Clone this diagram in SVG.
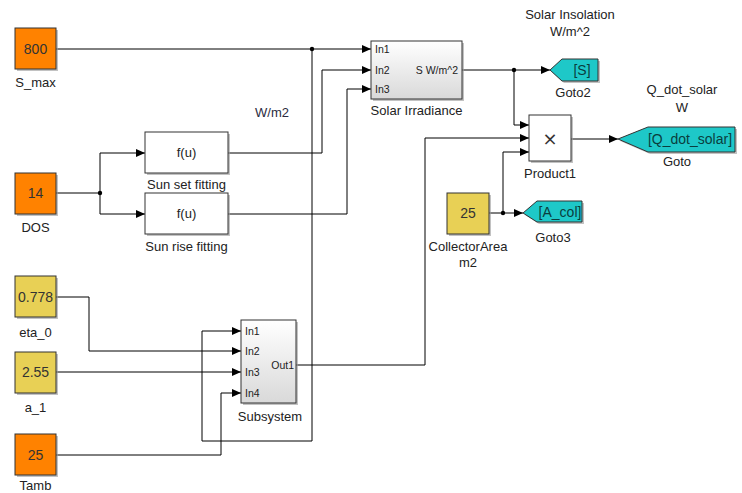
<svg xmlns="http://www.w3.org/2000/svg" width="742" height="493" viewBox="0 0 742 493">
<defs>
<linearGradient id="sub" x1="0" y1="0" x2="0" y2="1">
<stop offset="0" stop-color="#ffffff"/>
<stop offset="1" stop-color="#d9d9d9"/>
</linearGradient>
<marker id="arr" markerUnits="userSpaceOnUse" markerWidth="10" markerHeight="10" refX="9" refY="5" orient="auto" viewBox="0 0 10 10">
<path d="M0,1 L9,5 L0,9 Z" fill="#000"/>
</marker>
</defs>
<style>
text{font-family:"Liberation Sans",Arial,sans-serif;fill:#222}
.lbl{font-size:13px;text-anchor:middle}
.val{font-size:14px;text-anchor:middle;fill:#333}
.port{font-size:10.5px;fill:#222}
.shadow{fill:#9a9a9a;opacity:0.6}
.orange{fill:#ff8200;stroke:#333;stroke-width:1}
.yellow{fill:#e8d055;stroke:#333;stroke-width:1}
.white{fill:#fff;stroke:#333;stroke-width:1}
.grad{fill:url(#sub);stroke:#333;stroke-width:1}
.goto{fill:#1ec8c8;stroke:#333;stroke-width:1}
.gtxt{font-size:14px;text-anchor:middle;fill:#0a3e3e}
.wire{fill:none;stroke:#000;stroke-width:1}
.dot{fill:#000}
</style>

<g id="connectors">
<path class="wire" d="M56,49 H371" marker-end="url(#arr)"/>
<path class="wire" d="M312,49 V441 H202 V331 H241" marker-end="url(#arr)"/>
<path class="wire" d="M56,193 H100 V153 H145" marker-end="url(#arr)"/>
<path class="wire" d="M100,193 V214 H145" marker-end="url(#arr)"/>
<path class="wire" d="M228,153 H322 V70 H371" marker-end="url(#arr)"/>
<path class="wire" d="M228,214 H347 V89 H371" marker-end="url(#arr)"/>
<path class="wire" d="M462,70 H550" marker-end="url(#arr)"/>
<path class="wire" d="M514,70 V125 H529" marker-end="url(#arr)"/>
<path class="wire" d="M571,139 H618" marker-end="url(#arr)"/>
<path class="wire" d="M296,365 H425 V138 H529" marker-end="url(#arr)"/>
<path class="wire" d="M489,213 H523" marker-end="url(#arr)"/>
<path class="wire" d="M503,213 V152 H529" marker-end="url(#arr)"/>
<path class="wire" d="M56,297 H89 V351 H241" marker-end="url(#arr)"/>
<path class="wire" d="M56,372 H241" marker-end="url(#arr)"/>
<path class="wire" d="M56,455 H221 V393 H241" marker-end="url(#arr)"/>
<circle class="dot" cx="312" cy="49" r="2.2"/>
<circle class="dot" cx="100" cy="193" r="2.2"/>
<circle class="dot" cx="514" cy="70" r="2.2"/>
<circle class="dot" cx="503" cy="213" r="2.2"/>
</g>

<g id="S_max">
<rect class="shadow" x="17" y="30" width="41" height="41"/>
<rect class="orange" x="15" y="28" width="41" height="41"/>
<text class="val" x="35.5" y="54">800</text>
<text class="lbl" x="35.5" y="87">S_max</text>
</g>

<g id="DOS">
<rect class="shadow" x="17" y="175" width="41" height="41"/>
<rect class="orange" x="15" y="173" width="41" height="41"/>
<text class="val" x="35.5" y="198">14</text>
<text class="lbl" x="35.5" y="232">DOS</text>
</g>

<g id="eta_0">
<rect class="shadow" x="17" y="278" width="41" height="41"/>
<rect class="yellow" x="15" y="276" width="41" height="41"/>
<text class="val" x="35.5" y="302">0.778</text>
<text class="lbl" x="35.5" y="337">eta_0</text>
</g>

<g id="a_1">
<rect class="shadow" x="17" y="354" width="41" height="41"/>
<rect class="yellow" x="15" y="352" width="41" height="41"/>
<text class="val" x="35.5" y="377">2.55</text>
<text class="lbl" x="35.5" y="412">a_1</text>
</g>

<g id="Tamb">
<rect class="shadow" x="17" y="436" width="41" height="41"/>
<rect class="orange" x="15" y="434" width="41" height="41"/>
<text class="val" x="35.5" y="460">25</text>
<text class="lbl" x="35.5" y="490">Tamb</text>
</g>

<g id="SunSetFitting">
<rect class="shadow" x="147" y="134" width="83" height="41"/>
<rect class="white" x="145" y="132" width="83" height="41"/>
<text class="lbl" x="186.5" y="157">f(u)</text>
<text class="lbl" x="186.5" y="189">Sun set fitting</text>
</g>

<g id="SunRiseFitting">
<rect class="shadow" x="147" y="195" width="83" height="41"/>
<rect class="white" x="145" y="193" width="83" height="41"/>
<text class="lbl" x="186.5" y="218">f(u)</text>
<text class="lbl" x="186.5" y="251">Sun rise fitting</text>
</g>

<g id="SolarIrradiance">
<rect class="shadow" x="373" y="43" width="91" height="58"/>
<rect class="grad" x="371" y="41" width="91" height="58"/>
<text class="port" x="375" y="53">In1</text>
<text class="port" x="375" y="74">In2</text>
<text class="port" x="375" y="93">In3</text>
<text class="port" x="458" y="74" text-anchor="end" font-size="11.5">S W/m^2</text>
<text class="lbl" x="416.5" y="115">Solar Irradiance</text>
</g>

<g id="Subsystem">
<rect class="shadow" x="243" y="322" width="55" height="83"/>
<rect class="grad" x="241" y="320" width="55" height="83"/>
<text class="port" x="245" y="335">In1</text>
<text class="port" x="245" y="355">In2</text>
<text class="port" x="245" y="376">In3</text>
<text class="port" x="245" y="397">In4</text>
<text class="port" x="294" y="369" text-anchor="end">Out1</text>
<text class="lbl" x="270" y="421">Subsystem</text>
</g>

<g id="Product1">
<rect class="shadow" x="531" y="117" width="42" height="46"/>
<rect class="white" x="529" y="115" width="42" height="46"/>
<text x="550" y="145" text-anchor="middle" style="font-family:'DejaVu Sans',sans-serif;font-size:18px;fill:#333">×</text>
<text class="lbl" x="550" y="178">Product1</text>
</g>

<g id="CollectorArea">
<rect class="shadow" x="449" y="195" width="42" height="41"/>
<rect class="yellow" x="447" y="193" width="42" height="41"/>
<text class="val" x="468" y="218">25</text>
<text class="lbl" x="468" y="251">CollectorArea</text>
<text class="lbl" x="468" y="267">m2</text>
</g>

<g id="Goto2">
<polygon class="shadow" points="552,72 564,61 600,61 600,83 564,83"/>
<polygon class="goto" points="550,70 562,59 598,59 598,81 562,81"/>
<text class="gtxt" x="582" y="75">[S]</text>
<text class="lbl" x="573" y="97">Goto2</text>
<text class="lbl" x="570" y="19">Solar Insolation</text>
<text class="lbl" x="570" y="36">W/m^2</text>
</g>

<g id="Goto">
<polygon class="shadow" points="620,141 650,129 737,129 737,154 650,154"/>
<polygon class="goto" points="618,139 648,127 735,127 735,152 648,152"/>
<text class="gtxt" x="690" y="144">[Q_dot_solar]</text>
<text class="lbl" x="677" y="166">Goto</text>
<text class="lbl" x="682" y="94">Q_dot_solar</text>
<text class="lbl" x="682" y="112">W</text>
</g>

<g id="Goto3">
<polygon class="shadow" points="525,215 539,203 584,203 584,224 539,224"/>
<polygon class="goto" points="523,213 537,201 582,201 582,222 537,222"/>
<text class="gtxt" x="560" y="217">[A_col]</text>
<text class="lbl" x="553" y="242">Goto3</text>
</g>

<g id="W_m2_label">
<text class="lbl" x="272" y="117" style="fill:#2b2b40">W/m2</text>
</g>
</svg>
